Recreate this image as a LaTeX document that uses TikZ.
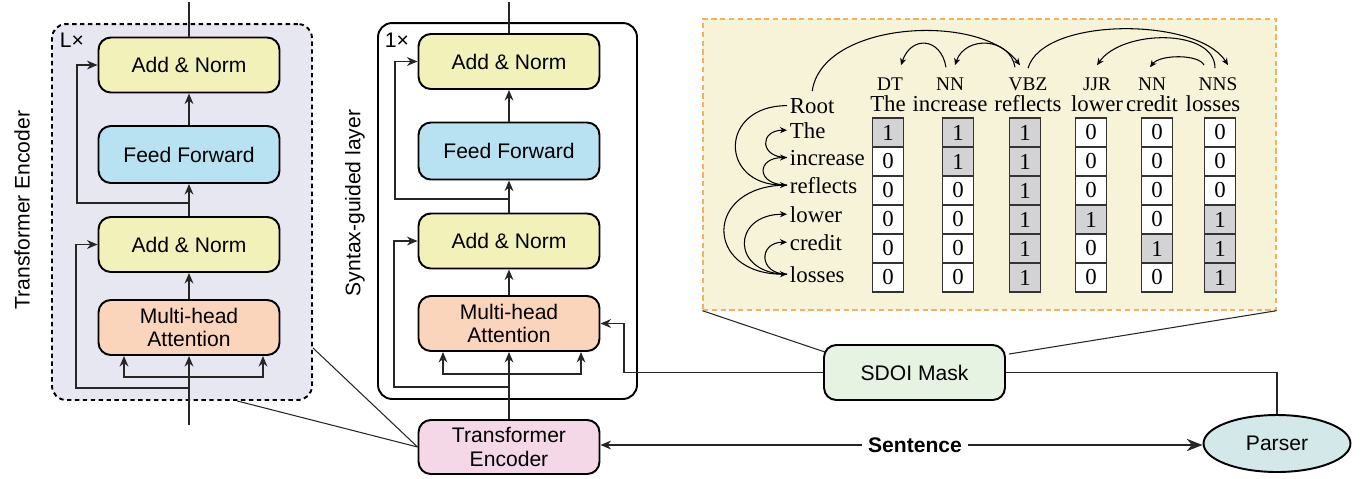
\documentclass[tikz,border=0pt]{standalone}
\usepackage{fontspec}
\setmainfont{Liberation Serif}
\setsansfont{Liberation Sans}
\usepackage{xcolor}
\usetikzlibrary{arrows.meta,calc,positioning,shapes.geometric}

\definecolor{normc}{HTML}{F3F1BA}
\definecolor{ffc}{HTML}{B8E1F2}
\definecolor{attc}{HTML}{FBD4BC}
\definecolor{encc}{HTML}{F5D8E8}
\definecolor{maskc}{HTML}{E6F2E2}
\definecolor{parsc}{HTML}{D3E8E8}
\definecolor{framec}{HTML}{E7E7F1}
\definecolor{panelc}{HTML}{F7F3D8}
\definecolor{panelb}{HTML}{F4B05C}
\definecolor{cellc}{HTML}{D3D3D5}

\tikzset{
  blk/.style={draw, line width=1.1pt, rounded corners=7pt, minimum width=3.62cm, minimum height=1.1cm,
    align=center, inner sep=1pt, font=\sffamily\fontsize{12}{13.5}\selectfont},
  norm/.style={blk, fill=normc},
  ffw/.style={blk, fill=ffc, minimum height=1.14cm},
  att/.style={blk, fill=attc},
  wire/.style={line width=1.1pt, draw=black!85},
  arr/.style={wire, -{Stealth[length=6pt,width=5pt]}},
  bigarr/.style={wire, -{Stealth[length=9pt,width=7pt]}},
  thinline/.style={line width=0.6pt, draw=black!85},
  dep/.style={line width=0.6pt, -{Stealth[length=4pt,width=3.5pt]}},
  cell/.style={draw=black!80, line width=0.6pt, minimum width=0.62cm, minimum height=0.58cm,
    inner sep=0pt, font=\fontsize{13}{14}\selectfont},
  word/.style={inner sep=1pt, anchor=base, font=\fontsize{13}{14}\selectfont},
  rowlab/.style={inner sep=1.5pt, anchor=base west, font=\fontsize{13}{14}\selectfont},
  tag/.style={inner sep=1pt, anchor=base, font=\fontsize{11}{12}\selectfont},
  sidelab/.style={rotate=90, font=\sffamily\fontsize{12}{13.5}\selectfont},
}

\begin{document}
\begin{tikzpicture}[x=0.02cm,y=-0.02cm]
\useasboundingbox (0,0) rectangle (1367,478);

% transformer encoder stack
\node[draw, dash pattern=on 2.5pt off 2pt, line width=1.1pt, fill=framec, rounded corners=8pt,
  minimum width=5.2cm, minimum height=7.52cm] (encframe) at (182,212) {};
\node[font=\sffamily\fontsize{12}{13.5}\selectfont] (ltimes) at (72,40) {L×};
\node[sidelab] (enclab) at (22,210) {Transformer Encoder};

\node[norm] (an2L) at (189,65) {Add \& Norm};
\node[ffw] (ffL) at (189,154.5) {Feed Forward};
\node[norm] (an1L) at (189,244.5) {Add \& Norm};
\node[att] (mhaL) at (189,327.5) {Multi-head\\Attention};

\coordinate (topL) at (189,2);
\coordinate (inL) at (189,425);
\coordinate (brL) at (189,377);
\coordinate (rsL) at (189,388);
\coordinate (midL) at (189,203);

\draw[wire] (an2L) -- (topL);
\draw[arr] (ffL) -- (an2L);
\draw[arr] (an1L) -- (ffL);
\draw[arr] (mhaL) -- (an1L);
\draw[arr] (inL) -- (mhaL);
\draw[arr] (brL) -| ($(mhaL.south)+(-65,0)$);
\draw[arr] (brL) -| ($(mhaL.south)+(74,0)$);
\draw[arr] (rsL) -| ($(an1L.west)+(-22,0)$) |- (an1L.west);
\draw[arr] (midL) -| ($(an2L.west)+(-21,0)$) |- (an2L.west);

% syntax-guided layer
\node[draw, line width=1.1pt, rounded corners=8pt, minimum width=5.18cm, minimum height=7.52cm] (synframe) at (507.5,211) {};
\node[font=\sffamily\fontsize{12}{13.5}\selectfont] (onetimes) at (397,40) {1×};
\node[sidelab] (synlab) at (355,203) {Syntax-guided layer};

\node[norm] (an2M) at (509,61.5) {Add \& Norm};
\node[ffw] (ffM) at (509,151) {Feed Forward};
\node[norm] (an1M) at (509,241) {Add \& Norm};
\node[att] (mhaM) at (509,323.5) {Multi-head\\Attention};

\coordinate (topM) at (509,2);
\coordinate (brM) at (509,374);
\coordinate (rsM) at (509,387);
\coordinate (midM) at (509,199);

\draw[wire] (an2M) -- (topM);
\draw[arr] (ffM) -- (an2M);
\draw[arr] (an1M) -- (ffM);
\draw[arr] (mhaM) -- (an1M);
\draw[arr] (brM) -| ($(mhaM.south)+(-66,0)$);
\draw[arr] (brM) -| ($(mhaM.south)+(72,0)$);
\draw[arr] (rsM) -| ($(an1M.west)+(-24,0)$) |- (an1M.west);
\draw[arr] (midM) -| ($(an2M.west)+(-23,0)$) |- (an2M.west);

% bottom row
\node[blk, fill=encc, minimum height=1.08cm] (te) at (509,447) {Transformer\\Encoder};
\node[blk, fill=maskc] (sdoi) at (914.5,372.5) {SDOI Mask};
\node[ellipse, draw, line width=1.1pt, fill=parsc, minimum width=2.94cm, minimum height=1.14cm,
  font=\sffamily\fontsize{12}{13.5}\selectfont] (parser) at (1277,443.5) {Parser};
\node[font=\sffamily\bfseries\fontsize{12}{13.5}\selectfont] (sent) at (915,445) {Sentence};

\draw[arr] (te) -- (mhaM);
\draw[arr] (sdoi.west) -| ($(mhaM.east)+(24,0)$) -- (mhaM.east);
\draw[wire] (sdoi.east) -| (parser.north);
\draw[bigarr] (sent.east) -- (sent.east -| parser.west);
\draw[arr] (sent.west) -- (sent.west -| te.east);

\draw[thinline] ($(encframe.south east)+(0,-53)$) -- (te.west);
\draw[thinline] ($(encframe.south west)+(186,0)$) -- (te.west);

% mask panel
\node[draw=panelb, dash pattern=on 3pt off 2pt, fill=panelc, line width=0.8pt, inner sep=0pt,
  minimum width=11.46cm, minimum height=5.82cm] (panel) at (989.5,164.5) {};
\draw[thinline] (panel.south west) -- ($(sdoi.north west)+(2,8)$);
\draw[thinline] (panel.south east) -- ($(sdoi.north east)+(3,10)$);

\node[tag] (tDT) at (890,90) {DT};
\node[tag] (tNNa) at (950,90) {NN};
\node[tag] (tVBZ) at (1028,90) {VBZ};
\node[tag] (tJJR) at (1097,90) {JJR};
\node[tag] (tNNb) at (1152,90) {NN};
\node[tag] (tNNS) at (1218,90) {NNS};

\node[word] (wThe) at (888,111) {The};
\node[word] (wincrease) at (950,111) {increase};
\node[word] (wreflects) at (1028,111) {reflects};
\node[word] (wlower) at (1097,111) {lower};
\node[word] (wcredit) at (1152,111) {credit};
\node[word] (wlosses) at (1213,111) {losses};

\node[rowlab] (rRoot) at (787,113) {Root};
\node[rowlab] (rThe) at (787,138) {The};
\node[rowlab] (rincrease) at (787,165) {increase};
\node[rowlab] (rreflects) at (787,193) {reflects};
\node[rowlab] (rlower) at (787,222) {lower};
\node[rowlab] (rcredit) at (787,250) {credit};
\node[rowlab] (rlosses) at (787,282) {losses};

\foreach \cx/\a/\b/\c/\d/\e/\f [count=\j] in {888/1/0/0/0/0/0, 958/1/1/0/0/0/0, 1025/1/1/1/1/1/1,
    1091/0/0/0/1/0/0, 1157/0/0/0/0/1/0, 1220/0/0/0/1/1/1}
  \foreach \v [count=\i] in {\a,\b,\c,\d,\e,\f} {
    \ifnum\v=1 \def\cf{cellc}\else\def\cf{white}\fi
    \node[cell, fill=\cf] (m\j\i) at (\cx,103.5+29*\i) {\v};
  }

% dependency arcs
\draw[dep] (rRoot.west) to[out=180,in=180,looseness=2.2] (rreflects.west);
\draw[dep] (rreflects.west) to[out=180,in=180,looseness=2.9] (rincrease.west);
\draw[dep] (rincrease.west) to[out=180,in=180,looseness=2.6] (rThe.west);
\draw[dep] (rreflects.west) to[out=180,in=180,looseness=2.4] (rlosses.west);
\draw[dep] (rlosses.west) to[out=180,in=180,looseness=2.4] (rlower.west);
\draw[dep] (rlosses.west) to[out=180,in=180,looseness=2.3] (rcredit.west);

\draw[dep] ($(rRoot.north)+(0,-4)$) .. controls +(10,-70) and +(-40,-53) .. ($(tVBZ.north)+(-8,-10)$);
\draw[dep] ($(tVBZ.north)+(-13,-8)$) .. controls +(-5,-30) and +(10,-30) .. ($(tNNa.north)+(5,-10)$);
\draw[dep] ($(tNNa.north)+(-4,-8)$) .. controls +(-5,-30) and +(10,-30) .. ($(tDT.north)+(11,-10)$);
\draw[dep] ($(tVBZ.north)+(0,-7)$) .. controls +(15,-52) and +(-30,-48) .. ($(tNNS.north)+(10,-10)$);
\draw[dep] ($(tNNS.north)+(-3,-7)$) .. controls +(0,-40) and +(25,-36) .. ($(tJJR.north)+(0,-10)$);
\draw[dep] ($(tNNS.north)+(-14,-10)$) .. controls +(-5,-11) and +(10,-13) .. ($(tNNb.north)+(-2,-8)$);
\end{tikzpicture}
\end{document}
